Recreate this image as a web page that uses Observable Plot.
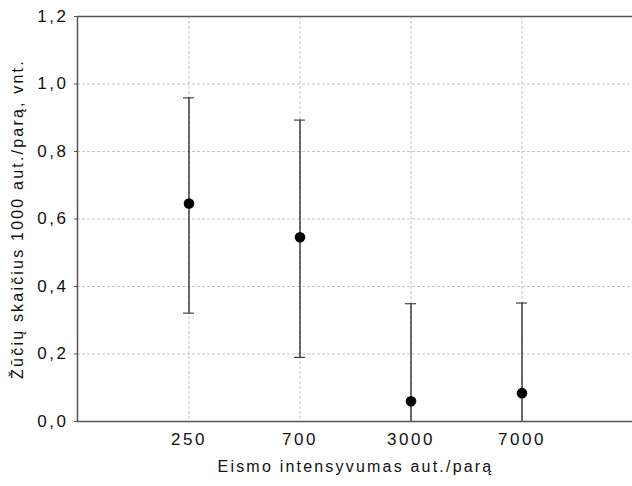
<!DOCTYPE html>
<html>
<head>
<meta charset="utf-8">
<script src="https://cdn.jsdelivr.net/npm/d3@7"></script>
<script src="https://cdn.jsdelivr.net/npm/@observablehq/plot@0.6"></script>
<style>
  html, body { margin: 0; padding: 0; background: #fff; }
  #chart svg { display: block; font-family: "Liberation Sans", Arial, sans-serif; }
</style>
</head>
<body>
<div id="chart"></div>
<script>
const categories = ["250", "700", "3000", "7000"];
const means = [0.646, 0.546, 0.060, 0.084];
const lows  = [0.321, 0.190, -0.230, -0.180];
const highs = [0.959, 0.893, 0.349, 0.351];
const yTicks = [0, 0.2, 0.4, 0.6, 0.8, 1.0, 1.2];
const xTitle = "Eismo intensyvumas aut./parą";
const yTitle = "Žūčių skaičius 1000 aut./parą, vnt.";

const data = categories.map((c, i) => ({cat: c, mean: means[i], lo: lows[i], hi: highs[i]}));

const chart = Plot.plot({
  width: 632,
  height: 486,
  marginLeft: 77,
  marginRight: -1,
  marginTop: 16,
  marginBottom: 65,
  style: {fontSize: "17px", color: "#111", background: "#fff", overflow: "hidden"},
  x: {type: "band", domain: categories, paddingInner: 0.901, paddingOuter: 0.9505},
  y: {domain: [0, 1.2]},
  marks: [
    Plot.gridY(yTicks, {stroke: "#c4c4c4", strokeOpacity: 1, strokeDasharray: "3,2"}),
    Plot.gridX(categories, {stroke: "#c4c4c4", strokeOpacity: 1, strokeDasharray: "3,2"}),
    Plot.frame({stroke: "#555", strokeWidth: 1.5}),
    Plot.axisY(yTicks, {
      tickSize: 3, tickPadding: 6, stroke: "#555",
      tickFormat: d => d.toFixed(1).replace(".", ","),
      label: null
    }),
    Plot.axisX(categories, {tickSize: 0, tickPadding: 11, label: null}),
    Plot.ruleX(data, {x: "cat", y1: "lo", y2: "hi", stroke: "#111", strokeWidth: 1.2, clip: true}),
    Plot.tickY(data, {x: "cat", y: "hi", stroke: "#444", strokeWidth: 1.2, clip: true}),
    Plot.tickY(data, {x: "cat", y: "lo", stroke: "#444", strokeWidth: 1.2, clip: true}),
    Plot.dot(data, {x: "cat", y: "mean", r: 5.3, fill: "#000", stroke: "none"}),
    Plot.text([xTitle], {text: d => d, frameAnchor: "bottom", textAnchor: "middle", dy: 50, fontSize: 16, fill: "#111"}),
    Plot.text([yTitle], {text: d => d, frameAnchor: "left", textAnchor: "middle", lineAnchor: "middle", rotate: -90, dx: -60, fontSize: 16, fill: "#111"})
  ]
});
chart.querySelectorAll("text").forEach(t => {
  const txt = t.textContent;
  if (txt === xTitle || txt === yTitle) t.setAttribute("letter-spacing", "2.2px");
  else t.setAttribute("letter-spacing", "2.5px");
});
document.getElementById("chart").appendChild(chart);
</script>
</body>
</html>
